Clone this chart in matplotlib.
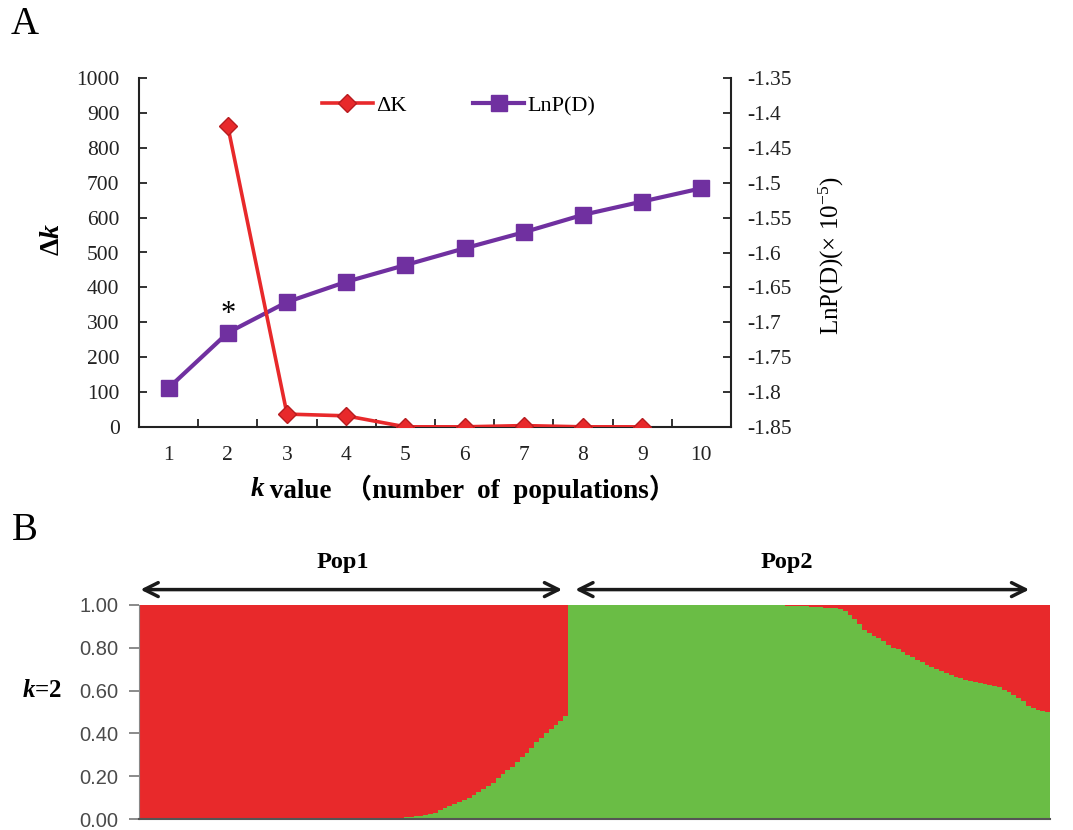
import numpy as np
import matplotlib.pyplot as plt

plt.rcParams['mathtext.fontset'] = 'custom'
plt.rcParams['mathtext.rm'] = 'Liberation Serif'
plt.rcParams['mathtext.it'] = 'Liberation Serif:italic:bold'
plt.rcParams['mathtext.bf'] = 'Liberation Serif:bold'

serif = ['Liberation Serif', 'Noto Sans CJK SC', 'DejaVu Sans']

# panel A data
k_vals = [1, 2, 3, 4, 5, 6, 7, 8, 9, 10]
dk_k = [2, 3, 4, 5, 6, 7, 8, 9]
delta_k = [862, 37, 32, 0.5, 0.5, 4, 0.5, 0.5]
lnpd = [-1.794, -1.715, -1.671, -1.642, -1.618, -1.594, -1.571, -1.546, -1.527, -1.508]

# panel B data: green (cluster 2) membership per individual, sorted
pop1_green = [0.0] * 54 + [
    0.005, 0.008, 0.01, 0.012, 0.015, 0.02, 0.025, 0.03, 0.04, 0.05,
    0.06, 0.07, 0.08, 0.09, 0.10, 0.11, 0.125, 0.14, 0.155, 0.17,
    0.19, 0.21, 0.23, 0.245, 0.265, 0.29, 0.31, 0.33, 0.36, 0.38,
    0.40, 0.42, 0.44, 0.46, 0.48]
pop2_green = [1.0] * 44 + [
    0.998, 0.997, 0.996, 0.995, 0.994, 0.993, 0.992, 0.99, 0.99, 0.988,
    0.987, 0.985, 0.98, 0.97, 0.955, 0.935, 0.91, 0.885, 0.87, 0.855,
    0.845, 0.83, 0.815, 0.80, 0.795, 0.78, 0.765, 0.755, 0.745, 0.735,
    0.72, 0.71, 0.70, 0.69, 0.68, 0.675, 0.665, 0.66, 0.65, 0.645,
    0.64, 0.635, 0.63, 0.625, 0.62, 0.615, 0.605, 0.595, 0.58, 0.565,
    0.55, 0.53, 0.52, 0.51, 0.505, 0.50]
pop_names = ['Pop1', 'Pop2']

red = '#E8292B'
purple = '#7030A0'
green = '#6ABD45'
ink = '#222222'

fig = plt.figure(figsize=(10.73, 8.3), dpi=100)

# ---------- panel A ----------
ax = fig.add_axes([139 / 1073, 1 - 427 / 830, 592 / 1073, 349 / 830])
ax2 = ax.twinx()
# red line sits above the purple one
ax.set_zorder(ax2.get_zorder() + 1)
ax.patch.set_visible(False)

l1, = ax.plot(dk_k, delta_k, color=red, lw=2.6, marker='D', ms=9,
              mfc=red, mec='#B81C1F', label='ΔK', zorder=3)
l2, = ax2.plot(k_vals, lnpd, color=purple, lw=3, marker='s', ms=12,
               mfc=purple, mec=purple, label='LnP(D)')

ax.set_xlim(0.5, 10.5)
ax.set_ylim(0, 1000)
ax2.set_ylim(-1.85, -1.35)
ax.set_yticks(np.arange(0, 1001, 100))
ax2.set_yticks(np.arange(-1.85, -1.34, 0.05))
ax2.set_yticklabels(['-1.85', '-1.8', '-1.75', '-1.7', '-1.65', '-1.6',
                     '-1.55', '-1.5', '-1.45', '-1.4', '-1.35'])
ax.set_xticks(k_vals)
ax.set_xticks(np.arange(1.5, 10, 1), minor=True)

for a in (ax, ax2):
    a.spines['top'].set_visible(False)
    for s in a.spines.values():
        s.set_color(ink)
        s.set_linewidth(1.5)
ax.spines['right'].set_visible(False)
ax2.spines['left'].set_visible(False)
ax2.spines['bottom'].set_visible(False)

ax.tick_params(axis='y', direction='in', length=6, width=1.3, labelsize=15.5, pad=14, colors=ink)
ax2.tick_params(axis='y', direction='in', length=6, width=1.3, labelsize=15.5, pad=12, colors=ink)
ax.tick_params(axis='x', which='major', length=0, labelsize=15.5, pad=14, colors=ink)
ax.tick_params(axis='x', which='minor', direction='in', length=6, width=1.3, color=ink)
for lab in ax.get_xticklabels() + ax.get_yticklabels() + ax2.get_yticklabels():
    lab.set_family(serif)

ax.set_ylabel(r'$\mathbf{\Delta}k$', fontsize=20, family=serif)
ax.yaxis.set_label_coords(-0.125, 0.536)
ax2.set_ylabel(r'LnP(D)(× 10$^{-5}$)', fontsize=18, family=serif)
ax2.yaxis.set_label_coords(1.145, 0.49)

# x label: italic k, then the rest (full-width brackets need the CJK fallback)
ax.text(0.188, -0.18, 'k', transform=ax.transAxes, fontsize=19.5, fontweight='bold',
        fontstyle='italic', family=serif, ha='left', va='center')
ax.text(0.209, -0.18, ' value  （number  of  populations）', transform=ax.transAxes,
        fontsize=19.5, fontweight='bold', family=serif, ha='left', va='center')

ax.text(2, 322, '*', ha='center', va='center', fontsize=22, family=serif)

ax.legend(handles=[l1, l2], loc='center', bbox_to_anchor=(0.54, 0.92), ncol=2,
          frameon=False, handlelength=2.3, handletextpad=0.15, columnspacing=3.0,
          prop={'family': serif, 'size': 16})

fig.text(25 / 1073, 1 - 25 / 830, 'A', fontsize=28, family=serif, ha='center', va='center')
fig.text(25 / 1073, 1 - 530 / 830, 'B', fontsize=28, family=serif, ha='center', va='center')

# ---------- panel B ----------
bx = fig.add_axes([139 / 1073, 11 / 830, 911 / 1073, 214 / 830])
green_all = np.array(pop1_green + pop2_green)
idx = np.arange(len(green_all))
bx.bar(idx, green_all, width=1.0, align='edge', color=green, linewidth=0)
bx.bar(idx, 1 - green_all, bottom=green_all, width=1.0, align='edge', color=red, linewidth=0)
n1 = len(pop1_green)
n = len(green_all)
bx.set_xlim(0, n)
bx.set_ylim(0, 1)
bx.set_xticks([])
bx.set_yticks(np.arange(0, 1.01, 0.2))
bx.set_yticklabels(['%.2f' % v for v in np.arange(0, 1.01, 0.2)])
bx.tick_params(axis='y', direction='out', length=7, width=1.2, color='#777777',
               labelcolor='#4a4a4a', labelsize=14.5, pad=8)
for lab in bx.get_yticklabels():
    lab.set_family('Liberation Sans')
for s in ['top', 'right']:
    bx.spines[s].set_visible(False)
bx.spines['left'].set_color('#888888')
bx.spines['bottom'].set_color('#555555')
bx.spines['bottom'].set_linewidth(1.5)

bx.text(-0.1065, 0.6, r'$k$=2', fontsize=18, fontweight='bold', family=serif,
        ha='center', va='center', transform=bx.transAxes)

arrow_y = 1.072
spans = [(0.3, n1 - 1.2), (n1 + 1.5, n - 4.3)]
label_x = [42.3, 134.3]
for (x0, x1), name, lx in zip(spans, pop_names, label_x):
    bx.annotate('', xy=(x0, arrow_y), xytext=(x1, arrow_y),
                arrowprops=dict(arrowstyle='<->', color='#1a1a1a', lw=2.5,
                                mutation_scale=25, shrinkA=0, shrinkB=0),
                annotation_clip=False)
    bx.text(lx, 1.20, name, fontsize=17.5, fontweight='bold', family=serif,
            ha='center', va='center')

fig.savefig('out.png', dpi=100)
